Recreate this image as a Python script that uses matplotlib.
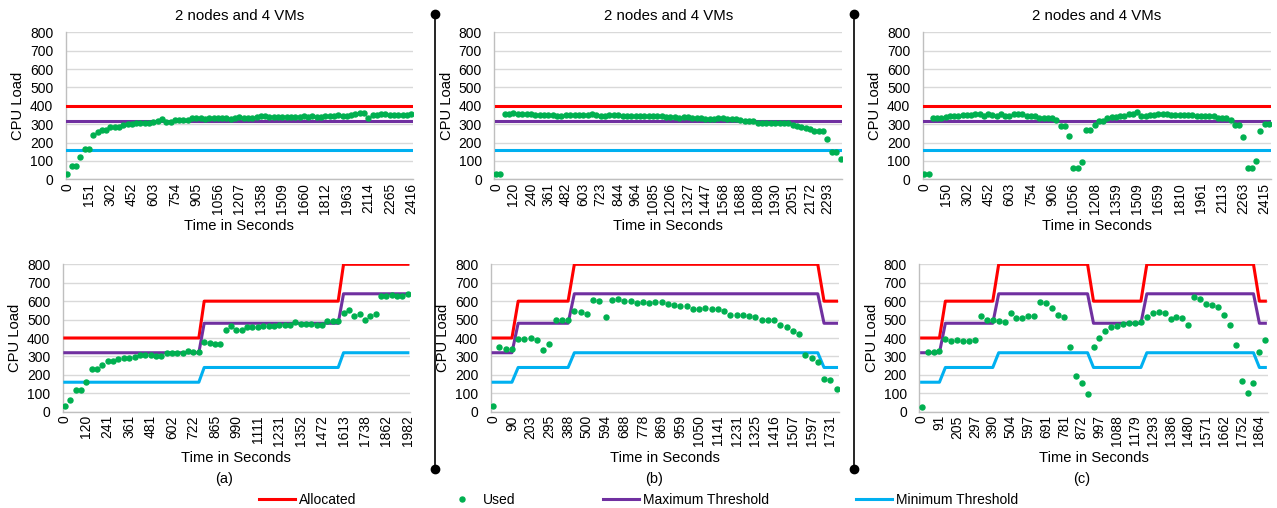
import numpy as np
import matplotlib
matplotlib.use("Agg")
import matplotlib.pyplot as plt
from matplotlib.lines import Line2D

plt.rcParams['font.family'] = ['Liberation Sans', 'DejaVu Sans']

# colours (Excel defaults)
RED = '#FF0000'
GREEN = '#00B050'
PURPLE = '#7030A0'
BLUE = '#00B0F0'
GRID = '#D9D9D9'
AXIS = '#BFBFBF'

# ---------------- top row: fixed allocation ----------------
top_a_labels = ['0', '151', '302', '452', '603', '754', '905', '1056', '1207',
                '1358', '1509', '1660', '1812', '1963', '2114', '2265', '2416']
top_a_used = [27, 74, 74, 123, 165, 165, 241, 256, 269, 269,
              287, 287, 287, 294, 301, 301, 305, 309, 309, 309,
              312, 316, 326, 312, 310, 323, 321, 321, 321, 333,
              331, 332, 330, 333, 336, 334, 333, 332, 330, 331,
              337, 332, 331, 336, 340, 342, 342, 340, 340, 341,
              340, 340, 340, 340, 340, 342, 340, 343, 340, 339,
              342, 345, 344, 350, 346, 346, 350, 355, 362, 360,
              336, 352, 352, 354, 353, 350, 348, 352, 352, 350, 357]

top_b_labels = ['0', '120', '240', '361', '482', '603', '723', '844', '964', '1085',
                '1206', '1327', '1447', '1568', '1688', '1808', '1930', '2051',
                '2172', '2293']
top_b_used = [29, 29, 354, 358, 359, 356, 354, 354, 356, 352,
              352, 350, 352, 349, 347, 346, 352, 350, 350, 352,
              352, 352, 356, 348, 346, 346, 348, 349, 348, 345,
              345, 346, 346, 345, 346, 345, 343, 344, 344, 341,
              341, 338, 335, 340, 339, 333, 332, 331, 330, 330,
              328, 332, 332, 330, 326, 330, 322, 320, 318, 316,
              308, 306, 306, 306, 306, 305, 305, 305, 297, 290,
              284, 279, 272, 263, 263, 263, 220, 146, 146, 110]

top_c_labels = ['0', '150', '302', '452', '603', '754', '906', '1056', '1208',
                '1359', '1509', '1659', '1810', '1961', '2113', '2263', '2415']
top_c_used = [27, 27, 331, 331, 331, 338, 345, 345, 347, 351,
              351, 351, 358, 358, 342, 355, 351, 344, 355, 347,
              345, 358, 358, 355, 342, 342, 342, 336, 331, 336,
              336, 322, 291, 291, 238, 62, 62, 96, 269, 269,
              298, 318, 318, 336, 340, 340, 347, 347, 358, 358,
              365, 347, 347, 349, 349, 353, 353, 353, 349, 349,
              351, 351, 351, 351, 345, 345, 345, 345, 345, 335,
              335, 335, 324, 298, 298, 231, 62, 62, 100, 264,
              300, 300]

# ---------------- bottom row: elastic allocation ----------------
bot_a_labels = ['0', '120', '241', '361', '481', '602', '722', '865', '990',
                '1111', '1231', '1352', '1472', '1613', '1738', '1862', '1982']
bot_a_used = [32, 63, 117, 117, 159, 231, 231, 256, 274, 274,
              285, 292, 289, 298, 307, 307, 307, 300, 300, 316,
              316, 321, 321, 328, 325, 325, 379, 374, 368, 368,
              446, 466, 446, 446, 460, 458, 458, 464, 467, 467,
              473, 473, 473, 486, 478, 478, 478, 473, 473, 493,
              493, 493, 536, 554, 520, 529, 500, 520, 529, 626,
              630, 633, 630, 630, 640]
bot_a_alloc = [400] * 26 + [600] * 26 + [800] * 13
bot_a_max = [320] * 26 + [480] * 26 + [640] * 13
bot_a_min = [160] * 26 + [240] * 26 + [320] * 13

bot_b_labels = ['0', '90', '203', '295', '388', '500', '594', '688', '778', '869',
                '959', '1050', '1141', '1231', '1325', '1416', '1507', '1597', '1731']
bot_b_used = [30, 349, 342, 342, 396, 396, 402, 389, 333, 369,
              498, 495, 495, 548, 540, 530, 608, 603, 514, 605,
              612, 602, 602, 592, 595, 590, 595, 595, 585, 578,
              575, 572, 560, 558, 565, 555, 555, 545, 525, 525,
              525, 520, 515, 498, 498, 498, 472, 462, 440, 420,
              307, 290, 271, 175, 170, 125]
bot_b_alloc = [400] * 4 + [600] * 9 + [800] * 40 + [600] * 3
bot_b_max = [320] * 4 + [480] * 9 + [640] * 40 + [480] * 3
bot_b_min = [160] * 4 + [240] * 9 + [320] * 40 + [240] * 3

bot_c_labels = ['0', '91', '205', '297', '390', '504', '597', '691', '781', '872',
                '997', '1088', '1179', '1293', '1386', '1480', '1571', '1662',
                '1752', '1864']
bot_c_used = [27, 326, 326, 330, 393, 386, 389, 384, 384, 389,
              521, 500, 500, 490, 489, 538, 507, 510, 521, 519,
              594, 588, 561, 525, 512, 353, 194, 154, 98, 353,
              398, 440, 461, 465, 476, 480, 483, 489, 516, 538,
              543, 534, 501, 516, 510, 471, 621, 614, 586, 581,
              568, 525, 471, 364, 166, 101, 157, 326, 389]
bot_c_alloc = [400] * 4 + [600] * 9 + [800] * 16 + [600] * 9 + [800] * 19 + [600] * 2
bot_c_max = [320] * 4 + [480] * 9 + [640] * 16 + [480] * 9 + [640] * 19 + [480] * 2
bot_c_min = [160] * 4 + [240] * 9 + [320] * 16 + [240] * 9 + [320] * 19 + [240] * 2

W, H = 1277, 508


def px_axes(fig, left, top, right, bottom):
    """Axes from pixel box (origin top-left)"""
    return fig.add_axes([left / W, 1 - bottom / H, (right - left) / W, (bottom - top) / H])


def draw_panel(ax, used, alloc, max_thr, min_thr, labels, step, title=None):
    x = np.arange(len(used))
    ax.plot(x, alloc, color=RED, lw=2.2, label='Allocated', zorder=3)
    ax.plot(x, max_thr, color=PURPLE, lw=2.2, label='Maximum Threshold', zorder=3)
    ax.plot(x, min_thr, color=BLUE, lw=2.2, label='Minimum Threshold', zorder=3)
    ax.plot(x, used, 'o', color=GREEN, ms=3.6, mec=GREEN, label='Used', zorder=4)

    ax.set_ylim(0, 800)
    ax.set_yticks(range(0, 801, 100))
    ax.set_xlim(-0.4, len(used) - 1 + 0.4)
    ax.set_xticks(x[::step][:len(labels)])
    ax.set_xticklabels(labels, rotation=90)
    ax.tick_params(axis='y', length=0, pad=9, labelsize=10)
    ax.tick_params(axis='x', length=0, pad=2.5, labelsize=10)

    ax.set_axisbelow(True)
    ax.yaxis.grid(True, color=GRID, lw=1)
    for s in ['top', 'right']:
        ax.spines[s].set_visible(False)
    for s in ['left', 'bottom']:
        ax.spines[s].set_color(AXIS)
        ax.spines[s].set_linewidth(1)

    bw = ax.get_position().width * W
    bh = ax.get_position().height * H
    ax.set_ylabel('CPU Load', fontsize=10.6, va='center')
    ax.yaxis.set_label_coords(-47.5 / bw, 0.5)
    ax.set_xlabel('Time in Seconds', fontsize=10.6, va='center')
    ax.xaxis.set_label_coords(0.5, -46.5 / bh)
    if title:
        ax.set_title(title, fontsize=10.8, pad=9)


fig = plt.figure(figsize=(W / 100, H / 100), dpi=100)

ax1 = px_axes(fig, 65.7, 32.3, 413, 179.3)
draw_panel(ax1, top_a_used, [400] * 81, [320] * 81, [160] * 81, top_a_labels, 5,
           '2 nodes and 4 VMs')
ax2 = px_axes(fig, 494.3, 32.3, 842.3, 179.3)
draw_panel(ax2, top_b_used, [400] * 80, [320] * 80, [160] * 80, top_b_labels, 4,
           '2 nodes and 4 VMs')
ax3 = px_axes(fig, 922.7, 32.3, 1270.7, 179.3)
draw_panel(ax3, top_c_used, [400] * 82, [320] * 82, [160] * 82, top_c_labels, 5,
           '2 nodes and 4 VMs')

ax4 = px_axes(fig, 62.7, 264.3, 410, 411.7)
draw_panel(ax4, bot_a_used, bot_a_alloc, bot_a_max, bot_a_min, bot_a_labels, 4)
ax5 = px_axes(fig, 490.7, 264.3, 839, 411.7)
draw_panel(ax5, bot_b_used, bot_b_alloc, bot_b_max, bot_b_min, bot_b_labels, 3)
ax6 = px_axes(fig, 919.3, 264.3, 1267.7, 411.7)
draw_panel(ax6, bot_c_used, bot_c_alloc, bot_c_max, bot_c_min, bot_c_labels, 3)

# sub captions
for xc, txt in [(223.7, '(a)'), (654, '(b)'), (1081.7, '(c)')]:
    fig.text(xc / W, 1 - 478.5 / H, txt, ha='center', va='center', fontsize=10.5)

# vertical separators with round ends
for xs in [434.5, 854]:
    fig.add_artist(Line2D([xs / W, xs / W], [1 - 14 / H, 1 - 469 / H],
                          transform=fig.transFigure, color='black', lw=1.2,
                          marker='o', ms=6))

# shared legend
h, l = ax4.get_legend_handles_labels()
order = [l.index('Allocated'), l.index('Used'), l.index('Maximum Threshold'),
         l.index('Minimum Threshold')]
fig.legend([h[i] for i in order], [l[i] for i in order], loc='center',
           bbox_to_anchor=(0.5, 1 - 500 / H), ncol=4, frameon=False, fontsize=10,
           handlelength=2.6, handletextpad=0.25, columnspacing=6.3)

fig.savefig('out.png', dpi=100)
